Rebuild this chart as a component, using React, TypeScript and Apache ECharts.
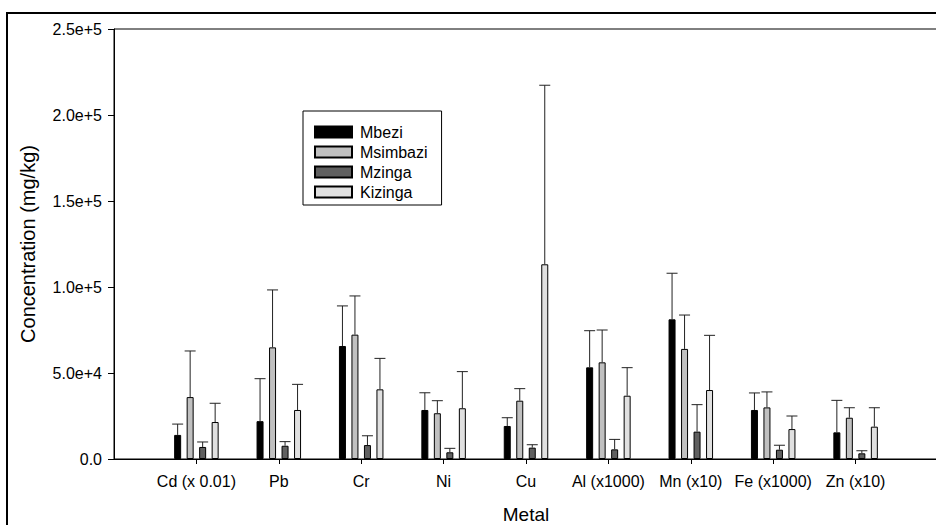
import React, { useEffect, useRef } from "react";
import * as echarts from "echarts";

const categories = ["Cd (x 0.01)", "Pb", "Cr", "Ni", "Cu", "Al (x1000)", "Mn (x10)", "Fe (x1000)", "Zn (x10)"];
const seriesNames = ["Mbezi", "Msimbazi", "Mzinga", "Kizinga"];
const mbezi = [14000, 22000, 65700, 28500, 19200, 53300, 81200, 28500, 15500];
const mbeziSD = [6300, 24700, 23300, 10000, 4800, 21300, 26800, 9900, 18600];
const msimbazi = [36000, 64900, 72300, 26600, 33900, 56200, 64000, 30000, 24000];
const msimbaziSD = [26800, 33400, 22500, 7300, 7000, 18800, 19700, 9000, 5800];
const mzinga = [7000, 7700, 8100, 3900, 6600, 5600, 15900, 5400, 3300];
const mzingaSD = [2900, 2400, 5400, 2300, 1700, 5800, 15700, 2600, 1500];
const kizinga = [21500, 28500, 40500, 29500, 113200, 36800, 40100, 17400, 18800];
const kizingaSD = [10900, 14900, 18000, 21300, 104100, 16300, 31800, 7600, 11000];
const yTicks = [0, 50000, 100000, 150000, 200000, 250000];

const colors = ["#000000", "#c0c0c0", "#606060", "#e0e0e0"];
const FONT = "Liberation Sans, Arial, sans-serif";

export default function App() {
  const ref = useRef<HTMLDivElement>(null);
  useEffect(() => {
    if (!ref.current) return;
    const chart = echarts.init(ref.current, null, { renderer: "svg" });
    const values = [mbezi, msimbazi, mzinga, kizinga];
    const sds = [mbeziSD, msimbaziSD, mzingaSD, kizingaSD];
    const barW = 7;
    const pitch = 12.5;
    const xData = ["", ...categories, ""];

    const bars = seriesNames.map((n, i) => ({
      type: "bar",
      name: n,
      data: ["-", ...values[i], "-"],
      barWidth: barW,
      barGap: ((pitch - barW) / barW) * 100 + "%",
      itemStyle: { color: colors[i], borderColor: "#000", borderWidth: 1 },
      z: 2,
    }));

    const errs = seriesNames.map((n, i) => ({
      type: "custom",
      name: n + " error",
      encode: { x: 0, y: [1, 2] },
      data: categories.map((c, j) => [j + 1, values[i][j], values[i][j] + sds[i][j]]),
      z: 3,
      renderItem: (params: any, api: any) => {
        const x = api.value(0);
        const m = api.value(1);
        const u = api.value(2);
        const p0 = api.coord([x, m]);
        const p1 = api.coord([x, u]);
        const cx = p0[0] + (i - 1.5) * pitch;
        return {
          type: "group",
          children: [
            { type: "line", shape: { x1: cx, y1: p0[1], x2: cx, y2: p1[1] }, style: { stroke: "#222", lineWidth: 1 } },
            { type: "line", shape: { x1: cx - 5.5, y1: p1[1], x2: cx + 5.5, y2: p1[1] }, style: { stroke: "#222", lineWidth: 1 } },
          ],
        };
      },
    }));

    chart.setOption({
      animation: false,
      backgroundColor: "#fff",
      textStyle: { fontFamily: FONT, color: "#000" },
      grid: {
        left: 114,
        top: 29,
        right: -2,
        bottom: 66,
        containLabel: false,
        outerBoundsMode: "none",
        show: true,
        borderColor: "#000",
        borderWidth: 1,
      },
      legend: {
        data: seriesNames,
        orient: "vertical",
        left: 303,
        top: 111,
        padding: [13, 14, 5, 11],
        itemWidth: 37,
        itemHeight: 11,
        itemGap: 4,
        icon: "rect",
        borderColor: "#000",
        borderWidth: 1,
        backgroundColor: "#fff",
        textStyle: { fontSize: 16, color: "#000", fontFamily: FONT, padding: [0, 0, 0, 3] },
      },
      xAxis: {
        type: "category",
        data: xData,
        boundaryGap: false,
        name: "Metal",
        nameLocation: "middle",
        nameGap: 46,
        nameTextStyle: { fontSize: 19, color: "#000", fontFamily: FONT },
        axisLine: { lineStyle: { color: "#000", width: 1 } },
        axisTick: { length: 5, lineStyle: { color: "#000" }, interval: (idx: number, v: string) => v !== "" },
        axisLabel: { interval: 0, fontSize: 16, color: "#000", margin: 14, fontFamily: FONT },
        splitLine: { show: false },
      },
      yAxis: {
        type: "value",
        min: yTicks[0],
        max: yTicks[yTicks.length - 1],
        interval: yTicks[1] - yTicks[0],
        name: "Concentration (mg/kg)",
        nameLocation: "middle",
        nameGap: 76,
        nameTextStyle: { fontSize: 20, color: "#000", fontFamily: FONT },
        axisLine: { show: true, lineStyle: { color: "#000", width: 1 } },
        axisTick: { show: true, length: 6, lineStyle: { color: "#000" } },
        axisLabel: {
          fontSize: 16,
          color: "#000",
          margin: 12,
          fontFamily: FONT,
          formatter: (v: number) => (v === 0 ? "0.0" : v.toExponential(1)),
        },
        splitLine: { show: false },
      },
      graphic: [
        {
          type: "rect",
          silent: true,
          z: 100,
          shape: { x: 7, y: 13, width: 945, height: 530 },
          style: { fill: "none", stroke: "#000", lineWidth: 2 },
        },
      ],
      series: [...bars, ...errs],
    });
    return () => chart.dispose();
  }, []);
  return <div ref={ref} style={{ position: "absolute", left: 0, top: 0, width: 936, height: 525 }} />;
}
